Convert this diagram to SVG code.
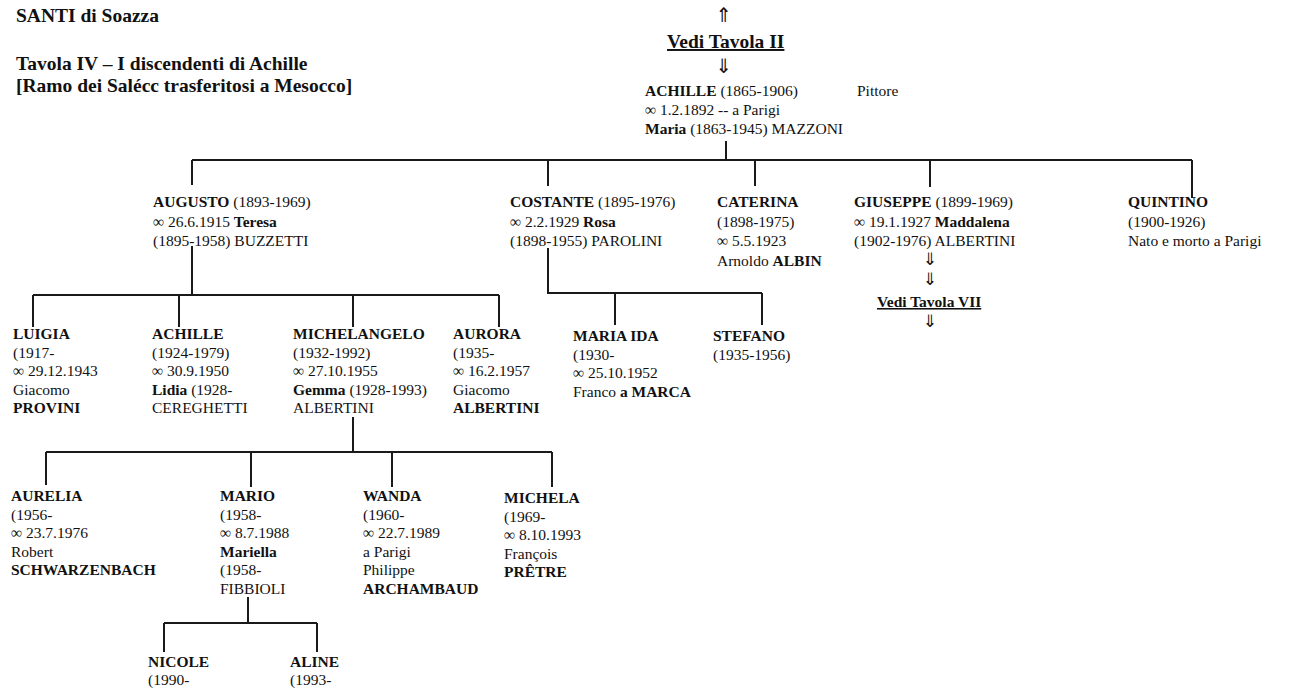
<svg xmlns="http://www.w3.org/2000/svg" width="1290" height="695" viewBox="0 0 1290 695">
<style>
  text { font-family: "Liberation Serif", "Times New Roman", serif; font-size: 15.5px; fill: #111; }
  .b { font-weight: bold; }
  .h { font-weight: bold; font-size: 19.5px; }
  .u { text-decoration: underline; }
  .ar { font-family: "DejaVu Sans", sans-serif; font-size: 20px; text-anchor: middle; fill: #111; }
  .ar2 { font-size: 17px; }
  .ln { stroke: #1a1a1a; stroke-width: 2; fill: none; }
</style>
<rect width="1290" height="695" fill="#ffffff"/>

<g id="header">
  <text class="h" x="16" y="22">SANTI di Soazza</text>
  <text class="h" x="16" y="70">Tavola IV – I discendenti di Achille</text>
  <text class="h" x="16" y="92">[Ramo dei Salécc trasferitosi a Mesocco]</text>
</g>

<g id="connectors">
  <path class="ln" d="M726 141 V160"/>
  <path class="ln" d="M192 160 H1192"/>
  <path class="ln" d="M192 160 V185 M548 160 V186 M755 160 V186 M930 160 V187 M1192 160 V198"/>
  <path class="ln" d="M192 246 V295 M33 295 H499 M33 295 V327 M179 295 V327 M353 295 V327 M499 295 V327"/>
  <path class="ln" d="M548 248 V293 H762 M615 293 V325 M762 293 V325"/>
  <path class="ln" d="M353 417 V452 M46 452 H552 M46 452 V485 M251 452 V487 M392 452 V487 M552 452 V487"/>
  <path class="ln" d="M248 597 V623 M164 623 H317 M164 623 V652 M317 623 V652"/>
</g>

<g id="tavola2">
  <text class="ar" x="724" y="22">⇑</text>
  <text class="h u" x="667" y="48">Vedi Tavola II</text>
  <text class="ar" x="724" y="73">⇓</text>
</g>

<g id="achille-root">
  <text x="645" y="96"><tspan class="b">ACHILLE</tspan> (1865-1906)</text>
  <text x="857" y="96">Pittore</text>
  <text x="645" y="115">∞ 1.2.1892 -- a Parigi</text>
  <text x="645" y="134"><tspan class="b">Maria</tspan> (1863-1945) MAZZONI</text>
</g>

<g id="augusto">
  <text x="153" y="207"><tspan class="b">AUGUSTO</tspan> (1893-1969)</text>
  <text x="153" y="226.5">∞ 26.6.1915 <tspan class="b">Teresa</tspan></text>
  <text x="153" y="246">(1895-1958) BUZZETTI</text>
</g>

<g id="costante">
  <text x="510" y="207"><tspan class="b">COSTANTE</tspan> (1895-1976)</text>
  <text x="510" y="226.5">∞ 2.2.1929 <tspan class="b">Rosa</tspan></text>
  <text x="510" y="246">(1898-1955) PAROLINI</text>
</g>

<g id="caterina">
  <text class="b" x="717" y="207">CATERINA</text>
  <text x="717" y="226.5">(1898-1975)</text>
  <text x="717" y="246">∞ 5.5.1923</text>
  <text x="717" y="265.5">Arnoldo <tspan class="b">ALBIN</tspan></text>
</g>

<g id="giuseppe">
  <text x="854" y="207"><tspan class="b">GIUSEPPE</tspan> (1899-1969)</text>
  <text x="854" y="226.5">∞ 19.1.1927 <tspan class="b">Maddalena</tspan></text>
  <text x="854" y="246">(1902-1976) ALBERTINI</text>
  <text class="ar ar2" x="930" y="265">⇓</text>
  <text class="ar ar2" x="930" y="285">⇓</text>
  <text class="b u" x="877" y="307">Vedi Tavola VII</text>
  <text class="ar ar2" x="930" y="327">⇓</text>
</g>

<g id="quintino">
  <text class="b" x="1128" y="207">QUINTINO</text>
  <text x="1128" y="226.5">(1900-1926)</text>
  <text x="1128" y="246">Nato e morto a Parigi</text>
</g>

<g id="luigia">
  <text class="b" x="13" y="339">LUIGIA</text>
  <text x="13" y="357.5">(1917-</text>
  <text x="13" y="376">∞ 29.12.1943</text>
  <text x="13" y="394.5">Giacomo</text>
  <text class="b" x="13" y="413">PROVINI</text>
</g>

<g id="achille">
  <text class="b" x="152" y="339">ACHILLE</text>
  <text x="152" y="357.5">(1924-1979)</text>
  <text x="152" y="376">∞ 30.9.1950</text>
  <text x="152" y="394.5"><tspan class="b">Lidia</tspan> (1928-</text>
  <text x="152" y="413">CEREGHETTI</text>
</g>

<g id="michelangelo">
  <text class="b" x="293" y="339">MICHELANGELO</text>
  <text x="293" y="357.5">(1932-1992)</text>
  <text x="293" y="376">∞ 27.10.1955</text>
  <text x="293" y="394.5"><tspan class="b">Gemma</tspan> (1928-1993)</text>
  <text x="293" y="413">ALBERTINI</text>
</g>

<g id="aurora">
  <text class="b" x="453" y="339">AURORA</text>
  <text x="453" y="357.5">(1935-</text>
  <text x="453" y="376">∞ 16.2.1957</text>
  <text x="453" y="394.5">Giacomo</text>
  <text class="b" x="453" y="413">ALBERTINI</text>
</g>

<g id="maria-ida">
  <text class="b" x="573" y="341">MARIA IDA</text>
  <text x="573" y="359.5">(1930-</text>
  <text x="573" y="378">∞ 25.10.1952</text>
  <text x="573" y="396.5">Franco <tspan class="b">a MARCA</tspan></text>
</g>

<g id="stefano">
  <text class="b" x="713" y="341">STEFANO</text>
  <text x="713" y="359.5">(1935-1956)</text>
</g>

<g id="aurelia">
  <text class="b" x="11" y="501">AURELIA</text>
  <text x="11" y="519.5">(1956-</text>
  <text x="11" y="538">∞ 23.7.1976</text>
  <text x="11" y="556.5">Robert</text>
  <text class="b" x="11" y="575">SCHWARZENBACH</text>
</g>

<g id="mario">
  <text class="b" x="220" y="501">MARIO</text>
  <text x="220" y="519.5">(1958-</text>
  <text x="220" y="538">∞ 8.7.1988</text>
  <text class="b" x="220" y="556.5">Mariella</text>
  <text x="220" y="575">(1958-</text>
  <text x="220" y="593.5">FIBBIOLI</text>
</g>

<g id="wanda">
  <text class="b" x="363" y="501">WANDA</text>
  <text x="363" y="519.5">(1960-</text>
  <text x="363" y="538">∞ 22.7.1989</text>
  <text x="363" y="556.5">a Parigi</text>
  <text x="363" y="575">Philippe</text>
  <text class="b" x="363" y="593.5">ARCHAMBAUD</text>
</g>

<g id="michela">
  <text class="b" x="504" y="503">MICHELA</text>
  <text x="504" y="521.5">(1969-</text>
  <text x="504" y="540">∞ 8.10.1993</text>
  <text x="504" y="558.5">François</text>
  <text class="b" x="504" y="577">PRÊTRE</text>
</g>

<g id="nicole">
  <text class="b" x="148" y="667">NICOLE</text>
  <text x="148" y="685">(1990-</text>
</g>

<g id="aline">
  <text class="b" x="290" y="667">ALINE</text>
  <text x="290" y="685">(1993-</text>
</g>
</svg>
